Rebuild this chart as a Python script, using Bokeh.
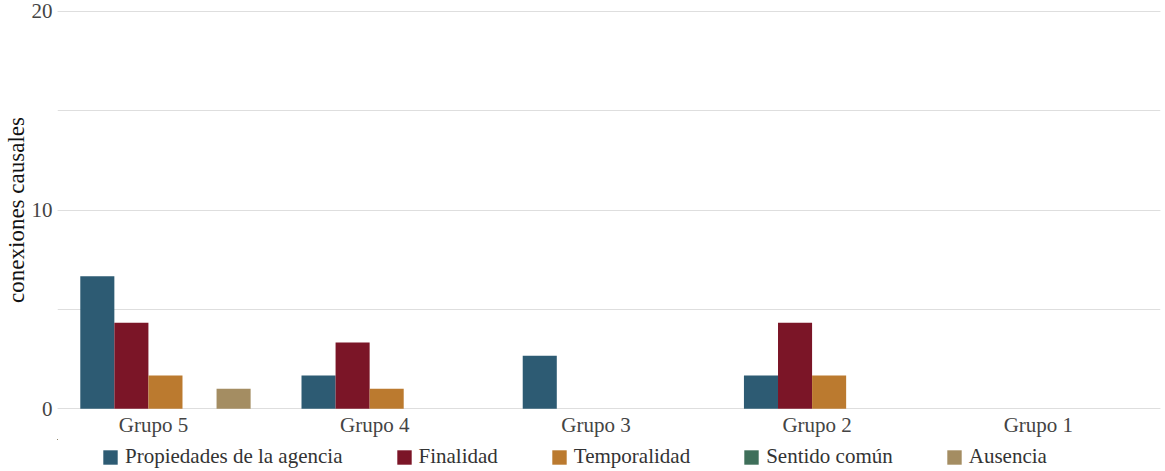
from bokeh.plotting import figure
from bokeh.layouts import column
from bokeh.models import FixedTicker, SingleIntervalTicker, Legend, LegendItem, ColumnDataSource, Range1d
from bokeh.embed import file_html
from bokeh.resources import INLINE

groups = ["Grupo 5", "Grupo 4", "Grupo 3", "Grupo 2", "Grupo 1"]
series = ["Propiedades de la agencia", "Finalidad", "Temporalidad", "Sentido común", "Ausencia"]
propiedades = [6.67, 1.67, 2.67, 1.67, 0.0]
finalidad = [4.33, 3.33, 0.0, 4.33, 0.0]
temporalidad = [1.67, 1.0, 0.0, 1.67, 0.0]
sentido_comun = [0.0, 0.0, 0.0, 0.0, 0.0]
ausencia = [1.0, 0.0, 0.0, 0.0, 0.0]
values = [propiedades, finalidad, temporalidad, sentido_comun, ausencia]
colors = ["#2d5b73", "#7b1527", "#bb7a2f", "#3e6f5a", "#a48d62"]

FONT = "Liberation Serif, serif"
W = 1165

p = figure(width=W, height=439, output_backend="svg", toolbar_location=None,
           x_range=Range1d(-0.434, 4.552), y_range=Range1d(-0.04, 20.04),
           min_border_left=0, min_border_right=5, min_border_top=10, min_border_bottom=0)
p.outline_line_color = None

bar_w = 0.154
shift = 0.054
xs = list(range(len(groups)))
srcs = []
for k, (name, vals, col) in enumerate(zip(series, values, colors)):
    off = (k - 2) * bar_w + shift
    src = ColumnDataSource(dict(x=[i + off for i in xs], top=vals))
    srcs.append(src)
    p.vbar(x="x", top="top", width=bar_w, source=src, fill_color=col, line_color=None)

# axes
for ax in [p.xaxis[0], p.yaxis[0]]:
    ax.axis_line_color = None
    ax.major_tick_line_color = None
    ax.minor_tick_line_color = None
    ax.major_tick_out = 0
    ax.major_tick_in = 0
    ax.minor_tick_out = 0
    ax.minor_tick_in = 0
    ax.major_label_text_font = FONT
    ax.major_label_text_font_size = "21px"
    ax.major_label_text_color = "#444444"

p.xaxis.ticker = FixedTicker(ticks=xs)
p.xaxis.major_label_overrides = {i: g for i, g in enumerate(groups)}
p.xaxis.major_label_standoff = 3

p.yaxis.ticker = SingleIntervalTicker(interval=10, num_minor_ticks=2)
p.yaxis.major_label_standoff = 5
p.yaxis.axis_label = "conexiones causales"
p.yaxis.axis_label_text_font = FONT
p.yaxis.axis_label_text_font_style = "normal"
p.yaxis.axis_label_text_font_size = "23px"
p.yaxis.axis_label_text_color = "#111111"
p.yaxis.axis_label_standoff = 0

p.xgrid.grid_line_color = None
p.ygrid.grid_line_color = "#dedede"
p.ygrid.minor_grid_line_color = "#dedede"
p.ygrid.grid_line_width = 1

# legend strip (its bars lie outside its visible ranges; only the legend shows)
lg = figure(width=W, height=32, output_backend="svg", toolbar_location=None,
            x_axis_type=None, y_axis_type=None,
            min_border_left=0, min_border_right=0, min_border_top=0, min_border_bottom=0,
            x_range=Range1d(100, 101), y_range=Range1d(-10, -9))
lg.outline_line_color = None
lg.xgrid.grid_line_color = None
lg.ygrid.grid_line_color = None
items = []
for name, col, src in zip(series, colors, srcs):
    r = lg.vbar(x="x", top="top", width=bar_w, source=src, fill_color=col, line_color=None)
    items.append(LegendItem(label=name, renderers=[r]))
legend = Legend(items=items, orientation="horizontal", location=(44, 2),
                glyph_width=18, glyph_height=18, label_standoff=6, spacing=52,
                padding=0, margin=0, border_line_color=None, background_fill_alpha=0,
                label_text_font=FONT, label_text_font_size="21px",
                label_text_color="#333333")
lg.add_layout(legend, "center")

layout = column(p, lg, spacing=0)
open("out.html", "w").write(file_html(layout, INLINE))
